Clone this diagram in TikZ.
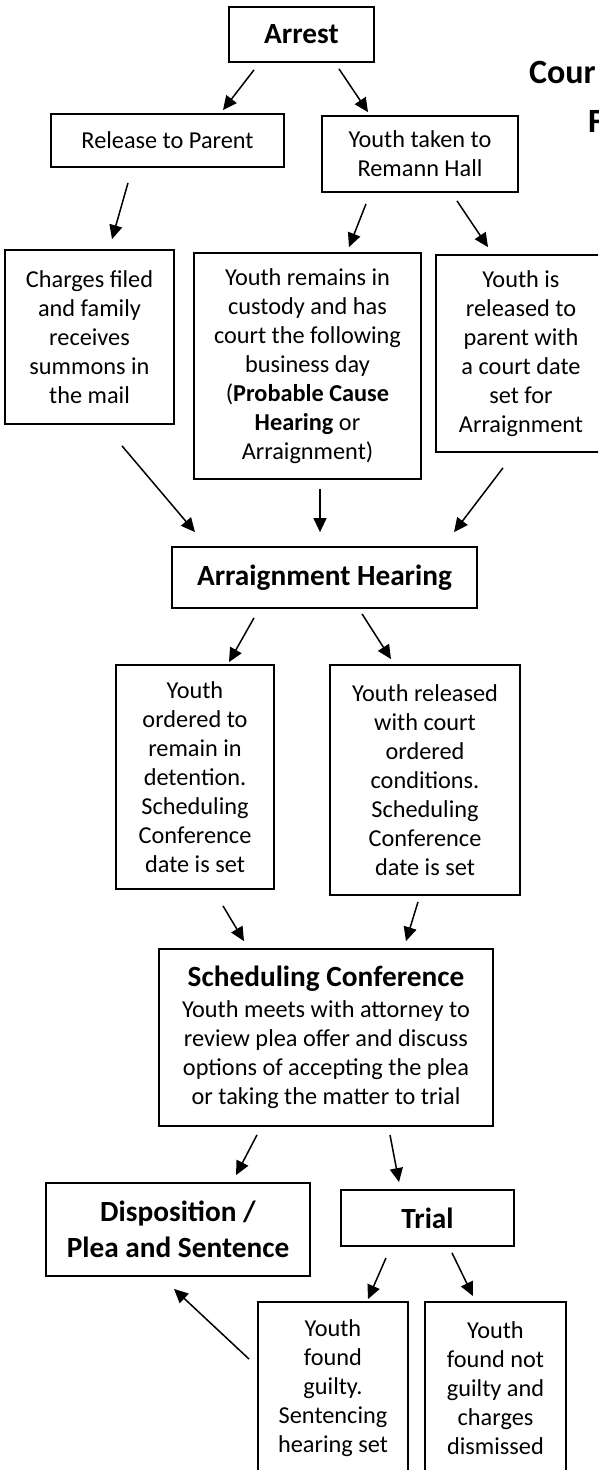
\documentclass[tikz,border=0pt]{standalone}
\usepackage{fontspec}
\setmainfont{Carlito}
\usetikzlibrary{arrows.meta,calc}
\newcommand{\nrm}{\fontsize{24.3}{29}\selectfont}
\newcommand{\hdg}{\fontsize{29.3}{36}\selectfont\bfseries}
\begin{document}
\begin{tikzpicture}[x=1pt,y=-1pt,
  box/.style={draw=black,line width=1.8pt,rectangle,inner sep=0pt,align=center,font=\nrm},
  hbox/.style={box,font=\hdg},
  arr/.style={line width=1.5pt,-{Triangle[length=14pt,width=13pt]}},
  ttl/.style={anchor=base west,inner sep=0pt,font=\fontsize{34}{42}\selectfont\bfseries}]
\fill[white] (0,0) rectangle (598,1470);
\clip (0,0) rectangle (598,1470);
% boxes
\node[hbox,minimum width=145pt,minimum height=55pt] (arrest) at (301.5,34.5) {Arrest};
\node[box,minimum width=233pt,minimum height=53pt] (release) at (167.5,140.5) {Release to Parent};
\node[box,minimum width=196pt,minimum height=76pt] (remann) at (420,154) {Youth taken to\\Remann Hall};
\node[box,minimum width=169pt,minimum height=174pt] (charges) at (89.5,337) {Charges filed\\and family\\receives\\summons in\\the mail};
\node[box,minimum width=227pt,minimum height=226pt] (custody) at (307.5,366) {Youth remains in\\custody and has\\court the following\\business day\\(\textbf{Probable Cause}\\\textbf{Hearing} or\\Arraignment)};
\node[box,minimum width=170pt,minimum height=197pt] (released) at (521,353.5) {Youth is\\released to\\parent with\\a court date\\set for\\Arraignment};
\node[hbox,minimum width=305pt,minimum height=61pt] (arraign) at (324.5,577.5) {Arraignment Hearing};
\node[box,minimum width=158pt,minimum height=224pt] (detain) at (195,777) {Youth\\ordered to\\remain in\\detention.\\Scheduling\\Conference\\date is set};
\node[box,minimum width=190pt,minimum height=230pt] (relcond) at (425,780) {Youth released\\with court\\ordered\\conditions.\\Scheduling\\Conference\\date is set};
\node[box,minimum width=334pt,minimum height=177pt] (sched) at (326,1037.5) {{\hdg Scheduling Conference}\\[2pt]Youth meets with attorney to\\review plea offer and discuss\\options of accepting the plea\\or taking the matter to trial};
\node[hbox,minimum width=264pt,minimum height=93pt] (dispo) at (178,1229.5) {Disposition /\\Plea and Sentence};
\node[hbox,minimum width=173pt,minimum height=56pt] (trial) at (427.5,1218) {Trial};
\node[box,minimum width=150pt,minimum height=173pt] (guilty) at (333,1388.5) {Youth\\found\\guilty.\\Sentencing\\hearing set};
\node[box,minimum width=141pt,minimum height=173pt] (notguilty) at (495.5,1388.5) {Youth\\found not\\guilty and\\charges\\dismissed};
% title (cut off at the right edge, as in the reference)
\node[ttl] (title1) at (529,83) {Cour};
\node[ttl] (title2) at (588,132) {F};
% connectors
\draw[arr] ($(arrest.south)+(-47.5,7)$) -- ($(release.north)+(55.5,-3)$);
\draw[arr] ($(arrest.south)+(37.5,6)$) -- ($(remann.north)+(-52,-3)$);
\draw[arr] ($(release.south)+(-39.5,15)$) -- ($(charges.north)+(22.5,-10)$);
\draw[arr] ($(remann.south)+(-54,11)$) -- ($(custody.north)+(41.5,-5)$);
\draw[arr] ($(remann.south)+(37,8)$) -- ($(released.north)+(-33,-7)$);
\draw[arr] ($(charges.south)+(32.5,21)$) -- ($(arraign.north)+(-129.5,-14)$);
\draw[arr] ($(custody.south)+(12.5,9)$) -- ($(arraign.north)+(-4.5,-14)$);
\draw[arr] ($(released.south)+(-18,15)$) -- ($(arraign.north)+(129.5,-14)$);
\draw[arr] ($(arraign.south)+(-70.5,9)$) -- ($(detain.north)+(34,-2)$);
\draw[arr] ($(arraign.south)+(37.5,5)$) -- ($(relcond.north)+(-34,-5)$);
\draw[arr] ($(detain.south)+(28,16)$) -- ($(sched.north)+(-82,-7)$);
\draw[arr] ($(relcond.south)+(-7,6)$) -- ($(sched.north)+(80,-7)$);
\draw[arr] ($(sched.south)+(-69,8)$) -- ($(dispo.north)+(58,-7)$);
\draw[arr] ($(sched.south)+(64,8)$) -- ($(trial.north)+(-28.5,-7)$);
\draw[arr] ($(trial.south)+(-41.5,11)$) -- ($(guilty.north)+(35,-2)$);
\draw[arr] ($(trial.south)+(24.5,6)$) -- ($(notguilty.north)+(-22.5,-5)$);
\draw[arr] ($(guilty.north west)+(-8,58)$) -- ($(dispo.south)+(-4,12)$);
\end{tikzpicture}
\end{document}
